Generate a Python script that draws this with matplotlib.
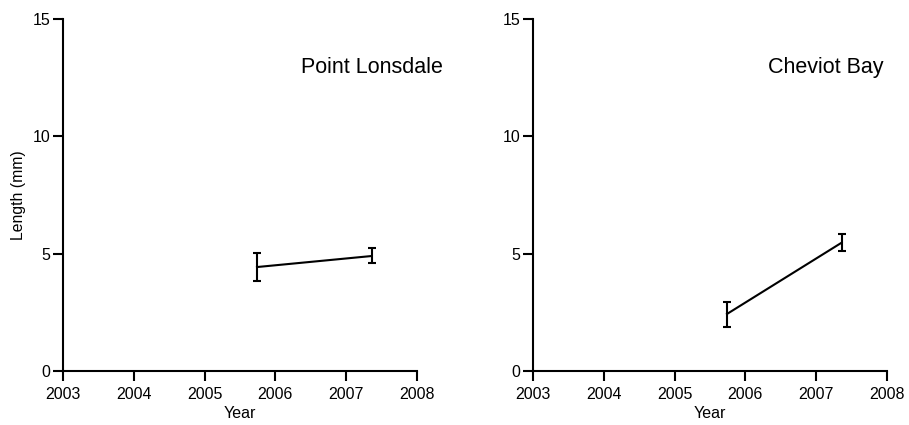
import matplotlib.pyplot as plt
import numpy as np

plt.rcParams['font.family'] = ['Liberation Sans', 'DejaVu Sans']

# sampling times (decimal year)
years = [2005.74, 2007.36]

# Point Lonsdale
lonsdale_mean = [4.43, 4.90]
lonsdale_lo = [3.85, 4.60]
lonsdale_hi = [5.03, 5.24]

# Cheviot Bay
cheviot_mean = [2.43, 5.47]
cheviot_lo = [1.88, 5.12]
cheviot_hi = [2.94, 5.84]

site_names = ["Point Lonsdale", "Cheviot Bay"]
xticks = [2003, 2004, 2005, 2006, 2007, 2008]
yticks = [0, 5, 10, 15]

fig = plt.figure(figsize=(9.09, 4.25), dpi=100)
W, H = 909, 425
ax1 = fig.add_axes([63 / W, (H - 371) / H, (417 - 63) / W, (371 - 19) / H])
ax2 = fig.add_axes([533 / W, (H - 371) / H, (887 - 533) / W, (371 - 19) / H])

series = [(lonsdale_mean, lonsdale_lo, lonsdale_hi),
          (cheviot_mean, cheviot_lo, cheviot_hi)]
label_x = [2007.36, 2007.14]

for i, ax in enumerate([ax1, ax2]):
    m, lo, hi = series[i]
    m = np.array(m)
    yerr = [m - np.array(lo), np.array(hi) - m]
    ax.errorbar(years, m, yerr=yerr, color='black', lw=1.5, elinewidth=1.5,
                capsize=3, capthick=1.5)
    ax.set_xlim(2003, 2008)
    ax.set_ylim(0, 15)
    ax.set_xticks(xticks)
    ax.set_yticks(yticks)
    for s in ['top', 'right']:
        ax.spines[s].set_visible(False)
    for s in ['left', 'bottom']:
        ax.spines[s].set_linewidth(1.5)
    ax.tick_params(direction='out', length=7.5, width=1.5, labelsize=11.5, pad=1.5)
    ax.tick_params(axis='x', pad=4)
    ax.set_xlabel("Year", fontsize=11.5, labelpad=3)
    ax.text(label_x[i], 12.95, site_names[i], fontsize=15.5, ha='center', va='center')

ax1.set_ylabel("Length (mm)", fontsize=11.3, labelpad=5)

fig.savefig("out.png", dpi=100)
